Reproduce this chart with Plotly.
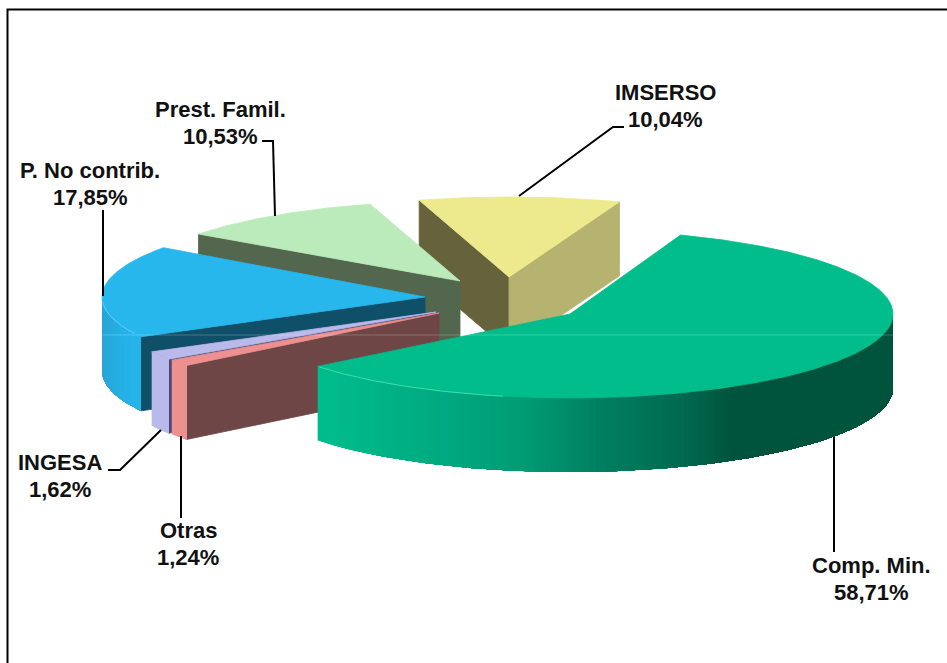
import math
import plotly.graph_objects as go

# ---- data ----
names = ["Comp. Min.", "Otras", "INGESA", "P. No contrib.", "Prest. Famil.", "IMSERSO"]
values = [58.71, 1.24, 1.62, 17.85, 10.53, 10.04]

# ---- styling / layout of the pseudo-3D pie ----
START_DEG = 70.0
RX = 323.0
DEPTH = 74.0
apex = [(570, 314), (439, 313), (436, 312), (425, 297), (460, 281), (509, 277)]
ry = [84, 84, 84, 84, 80, 80]
top_col = ["#00BD8B", "#EE9090", "#B9B9EC", "#27B7ED", "#BBEBBB", "#ECEA8C"]
wall_start_col = [None, "#6E4646", "#4A4B6E", "#0F5068", "#53674F", "#66633C"]
wall_end_col = [None, None, None, None, None, "#B5B36F"]
outer_stops = [
    [(319, "#00BD8C"), (450, "#00A880"), (530, "#009A72"), (600, "#007F60"),
     (680, "#006A50"), (735, "#00533C"), (895, "#00533C")],
    [(0, "#EE9090"), (947, "#EE9090")],
    [(0, "#B9B9EC"), (947, "#B9B9EC")],
    [(103, "#27A6D8"), (125, "#26B2E8"), (170, "#25B7EE")],
    None,
    None,
]
draw_order = [5, 4, 3, 2, 1, 0]
rim = {0: (219, 258, "#3FDDB0"), 3: (206, 183, "#62D0F6")}

label_pos = [(871, 578.5), (188, 544), (60, 475.5), (90, 183.5), (220, 123), (665, 105.5)]
leaders = [
    [(834, 437), (834, 552)],
    [(181, 436), (181, 518)],
    [(161, 430), (120, 470), (108, 470)],
    [(103, 296), (103, 210)],
    [(275, 216), (273, 141), (262, 141)],
    [(519, 196), (613, 127), (624, 127)],
]


def hex2rgb(h):
    return tuple(int(h[i:i + 2], 16) for i in (1, 3, 5))


def grad(stops, x):
    if x <= stops[0][0]:
        return stops[0][1]
    for (x0, c0), (x1, c1) in zip(stops, stops[1:]):
        if x <= x1:
            f = (x - x0) / (x1 - x0)
            a, b = hex2rgb(c0), hex2rgb(c1)
            return "#%02X%02X%02X" % tuple(round(p + (q - p) * f) for p, q in zip(a, b))
    return stops[-1][1]


fig = go.Figure()


def poly(pts, color, lw=0.8):
    xs = [p[0] for p in pts] + [pts[0][0]]
    ys = [p[1] for p in pts] + [pts[0][1]]
    fig.add_trace(go.Scatter(x=xs, y=ys, mode="lines", fill="toself", fillcolor=color,
                             line=dict(color=color, width=lw), hoverinfo="skip",
                             showlegend=False))


def line(pts, color, width):
    fig.add_trace(go.Scatter(x=[p[0] for p in pts], y=[p[1] for p in pts], mode="lines",
                             line=dict(color=color, width=width), hoverinfo="skip",
                             showlegend=False))


# angular extent of each slice, clockwise from START_DEG
total = sum(values)
spans = []
a = START_DEG
for v in values:
    b = a - 360.0 * v / total
    spans.append((a, b))
    a = b


def pt(i, deg):
    cx, cy = apex[i]
    r = math.radians(deg)
    return (cx + RX * math.cos(r), cy - ry[i] * math.sin(r))


def arc(i, d0, d1, n=None):
    n = n or max(2, int(abs(d1 - d0) * 2))
    return [pt(i, d0 + (d1 - d0) * k / n) for k in range(n + 1)]


def down(p):
    return (p[0], p[1] + DEPTH)


for i in draw_order:
    s, e = spans[i]
    # radial walls
    if wall_start_col[i]:
        p = pt(i, s)
        poly([p, apex[i], down(apex[i]), down(p)], wall_start_col[i])
    if wall_end_col[i]:
        p = pt(i, e)
        poly([p, apex[i], down(apex[i]), down(p)], wall_end_col[i])
    # outer wall: part of the rim on the front half of the ellipse, painted so that
    # every band runs from its own angle right to the end of the visible rim
    if outer_stops[i]:
        angles = []
        d = min(e, s)
        hi = max(e, s)
        step = 1.0
        while d < hi:
            d2 = min(d + step, hi)
            mid = ((d + d2) / 2) % 360
            if 180 <= mid <= 360:
                angles.append((d, d2))
            d = d2
        # paint left-to-right: sort by on-screen x
        angles.sort(key=lambda q: pt(i, q[0])[0])
        for k, (d0, d2) in enumerate(angles):
            pa, pb = pt(i, d0), pt(i, d2)
            c = grad(outer_stops[i], (pa[0] + pb[0]) / 2)
            rest = [pt(i, q[0]) for q in angles[k:]] + [pt(i, angles[-1][1])]
            rest = sorted(set(rest), key=lambda q: q[0])
            poly(rest + [down(q) for q in reversed(rest)], c, lw=0)
    # top face
    poly([apex[i]] + arc(i, s, e), top_col[i])
    # rim highlight
    if i in rim:
        d0, d1, c = rim[i]
        line(arc(i, d0, d1), c, 1)

# faint horizontal artefact across the coloured marks
line([(103, 335), (893, 335)], "rgba(255,255,255,0.22)", 1)

# leader lines
for seg in leaders:
    line(seg, "#000000", 2)

annotations = []
for n, v, (x, y) in zip(names, values, label_pos):
    for txt, dy in ((n, -13.5), (f"{v:.2f}".replace(".", ",") + "%", 13.5)):
        annotations.append(dict(x=x, y=y + dy, xref="x", yref="y", text=f"<b>{txt}</b>",
                                showarrow=False, xanchor="center", yanchor="middle",
                                font=dict(family="Liberation Sans, Arial, sans-serif", size=22,
                                          color="#111111")))

fig.update_layout(
    width=947, height=663, margin=dict(l=0, r=0, t=0, b=0),
    paper_bgcolor="white", plot_bgcolor="white", showlegend=False,
    xaxis=dict(range=[0, 947], visible=False, fixedrange=True),
    yaxis=dict(range=[663, 0], visible=False, fixedrange=True),
    annotations=annotations,
    shapes=[dict(type="rect", xref="x", yref="y", x0=7.5, y0=9.5, x1=970, y1=690,
                 line=dict(color="#000000", width=2), fillcolor="rgba(0,0,0,0)", layer="above")],
)

fig.write_html("out.html", config={"displayModeBar": False},
               post_script="document.body.style.margin='0';document.body.style.overflow='hidden';")
